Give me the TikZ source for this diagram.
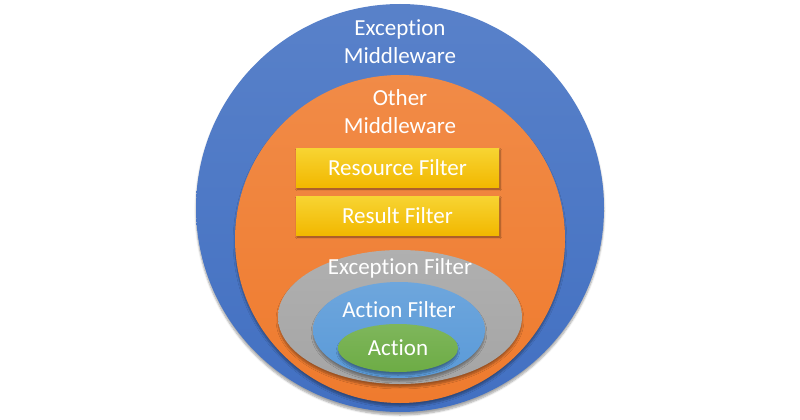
\documentclass[tikz,border=0pt]{standalone}
\usepackage{fontspec}
\setmainfont{Carlito}[Ligatures=NoCommon]
\usetikzlibrary{shapes.geometric,shadows.blur,positioning}

\definecolor{mwblue}{HTML}{4270C2}
\definecolor{mworange}{HTML}{EF7B2E}
\definecolor{fyellow}{HTML}{F2B800}
\definecolor{fgray}{HTML}{A5A5A5}
\definecolor{fblue}{HTML}{5A9AD8}
\definecolor{fgreen}{HTML}{6DAC45}

\begin{document}
\begin{tikzpicture}[x=1pt,y=-1pt,font=\fontsize{23}{28}\selectfont,layer/.style={ellipse,inner sep=0pt,draw=none,text=white,top color=#1!88!white,bottom color=#1,blur shadow={shadow xshift=0pt,shadow yshift=-3pt,shadow blur steps=6,shadow opacity=35}},layertext/.style={text=white,align=center,inner sep=0pt},filterbox/.style={inner sep=0pt,minimum width=203pt,minimum height=39pt,top color=fyellow!75!yellow!80!white,bottom color=fyellow,text=white,blur shadow={shadow xshift=1pt,shadow yshift=-2pt,shadow blur steps=4,shadow opacity=45}}]
\useasboundingbox (0,0) rectangle (800,420);
\node[layer=mwblue,minimum width=408pt,minimum height=408pt] (exmw) at (400,208) {};
\node[layer=mworange,minimum width=330pt,minimum height=328pt] (othermw) at (400,239) {};
\node[filterbox] (resource) at (397.5,167.5) {Resource Filter};
\node[filterbox] (result) at (397.5,215.5) {Result Filter};
\node[layer=fgray,minimum width=244pt,minimum height=134pt] (exfilter) at (400,317) {};
\node[layer=fblue,minimum width=172pt,minimum height=96pt] (actfilter) at (399,330) {};
\node[layer=fgreen,minimum width=120pt,minimum height=48pt] (action) at (398,348) {Action};
% layer captions
\node[layertext] at ([yshift=-38pt]exmw.north) {Exception\\Middleware};
\node[layertext] at ([yshift=-37pt]othermw.north) {Other\\Middleware};
\node[layertext] at ([yshift=-19pt]exfilter.north) {Exception Filter};
\node[layertext] at ([yshift=-28pt]actfilter.north) {Action Filter};
\end{tikzpicture}
\end{document}
